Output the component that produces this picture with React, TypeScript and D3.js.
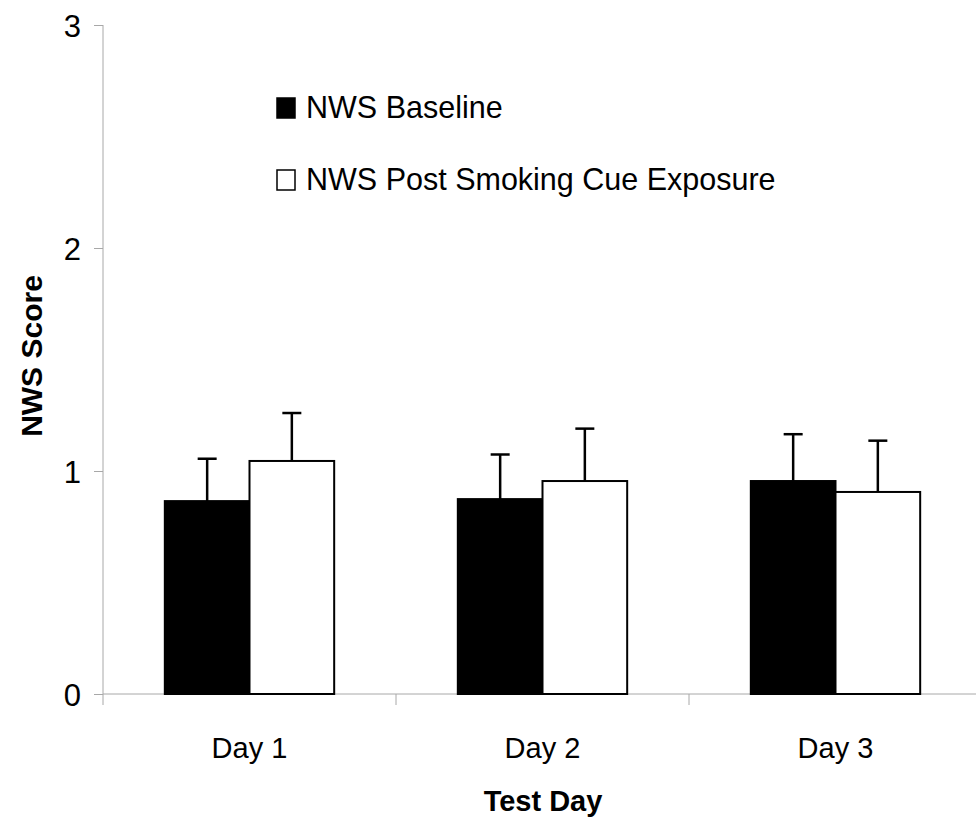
import React, { useEffect, useRef } from "react";
import * as d3 from "d3";

const days = ["Day 1", "Day 2", "Day 3"];
const seriesNames = ["NWS Baseline", "NWS Post Smoking Cue Exposure"];
const baselineMeans = [0.865, 0.874, 0.955];
const baselineErr = [0.19, 0.2, 0.21];
const postMeans = [1.045, 0.955, 0.906];
const postErr = [0.215, 0.235, 0.23];
const yTicks = [0, 1, 2, 3];
const seriesFill = ["#000000", "#ffffff"];

const W = 976;
const H = 821;
const FONT = "'Liberation Sans', Arial, sans-serif";
const GRAY = "#a8a8a8";

export default function App() {
  const svgRef = useRef<SVGSVGElement>(null);

  useEffect(() => {
    const svg = d3.select(svgRef.current);
    svg.selectAll("*").remove();

    const x0 = d3.scaleBand().domain(days).range([103, 982]).padding(0);
    const x1 = d3
      .scaleBand()
      .domain(seriesNames)
      .range([0, x0.bandwidth()])
      .paddingInner(0)
      .paddingOuter(0.73);
    const y = d3.scaleLinear().domain([0, 3]).range([694, 25]);

    const rows = days.map((d, i) => ({
      day: d,
      vals: [
        { key: seriesNames[0], mean: baselineMeans[i], err: baselineErr[i], fill: seriesFill[0] },
        { key: seriesNames[1], mean: postMeans[i], err: postErr[i], fill: seriesFill[1] },
      ],
    }));

    // y axis
    const yAxis = d3
      .axisLeft(y)
      .tickValues(yTicks)
      .tickSize(9)
      .tickPadding(13)
      .tickFormat(d3.format("d"));
    const gy = svg.append("g").attr("transform", "translate(103,0)").call(yAxis);
    gy.select(".domain").attr("stroke", GRAY).attr("d", `M0,${y(3)}V${y(0)}`);
    gy.selectAll(".tick line").attr("stroke", GRAY);
    gy.selectAll(".tick text")
      .attr("font-family", FONT)
      .attr("font-size", 31)
      .attr("fill", "#000")
      .attr("dy", "0.36em");

    // x axis (ticks at category boundaries)
    const gx = svg.append("g");
    gx.append("line")
      .attr("x1", 103)
      .attr("x2", W)
      .attr("y1", y(0))
      .attr("y2", y(0))
      .attr("stroke", GRAY);
    const bounds = days.map((d) => x0(d) as number);
    gx.selectAll(".xt")
      .data(bounds)
      .join("line")
      .attr("x1", (d) => d)
      .attr("x2", (d) => d)
      .attr("y1", y(0))
      .attr("y2", y(0) + 11)
      .attr("stroke", GRAY);
    gx.selectAll(".xl")
      .data(days)
      .join("text")
      .attr("x", (d) => (x0(d) as number) + x0.bandwidth() / 2)
      .attr("y", 758)
      .attr("text-anchor", "middle")
      .attr("font-family", FONT)
      .attr("font-size", 29)
      .text((d) => d);

    // bars
    const groups = svg
      .selectAll(".grp")
      .data(rows)
      .join("g")
      .attr("transform", (d) => `translate(${x0(d.day)},0)`);

    groups
      .selectAll(".err")
      .data((d) => d.vals)
      .join("g")
      .each(function (v) {
        const g = d3.select(this);
        const cx = (x1(v.key) as number) + x1.bandwidth() / 2;
        g.append("line")
          .attr("x1", cx)
          .attr("x2", cx)
          .attr("y1", y(v.mean))
          .attr("y2", y(v.mean + v.err))
          .attr("stroke", "#000")
          .attr("stroke-width", 2.5);
        g.append("line")
          .attr("x1", cx - 9.5)
          .attr("x2", cx + 9.5)
          .attr("y1", y(v.mean + v.err))
          .attr("y2", y(v.mean + v.err))
          .attr("stroke", "#000")
          .attr("stroke-width", 2.5);
      });

    groups
      .selectAll("rect")
      .data((d) => d.vals)
      .join("rect")
      .attr("x", (v) => x1(v.key) as number)
      .attr("width", x1.bandwidth())
      .attr("y", (v) => y(v.mean))
      .attr("height", (v) => y(0) - y(v.mean))
      .attr("fill", (v) => v.fill)
      .attr("stroke", "#000")
      .attr("stroke-width", 2);

    // legend
    const leg = svg
      .selectAll(".leg")
      .data(seriesNames)
      .join("g")
      .attr("transform", (_, i) => `translate(276,${97 + i * 72})`);
    leg
      .append("rect")
      .attr("x", 1)
      .attr("y", 1)
      .attr("width", 18)
      .attr("height", 20)
      .attr("fill", (_, i) => seriesFill[i])
      .attr("stroke", "#000")
      .attr("stroke-width", 1.5);
    leg
      .append("text")
      .attr("x", 30)
      .attr("y", 21)
      .attr("font-family", FONT)
      .attr("font-size", 30.5)
      .text((d) => d);

    // axis titles
    svg
      .append("text")
      .attr("x", 543)
      .attr("y", 811)
      .attr("text-anchor", "middle")
      .attr("font-family", FONT)
      .attr("font-weight", "bold")
      .attr("font-size", 29)
      .text("Test Day");
    svg
      .append("text")
      .attr("transform", "translate(42,356) rotate(-90)")
      .attr("text-anchor", "middle")
      .attr("font-family", FONT)
      .attr("font-weight", "bold")
      .attr("font-size", 30)
      .text("NWS Score");
  }, []);

  return (
    <svg
      ref={svgRef}
      width={W}
      height={H}
      style={{ position: "absolute", left: 0, top: 0, background: "#fff" }}
    />
  );
}
